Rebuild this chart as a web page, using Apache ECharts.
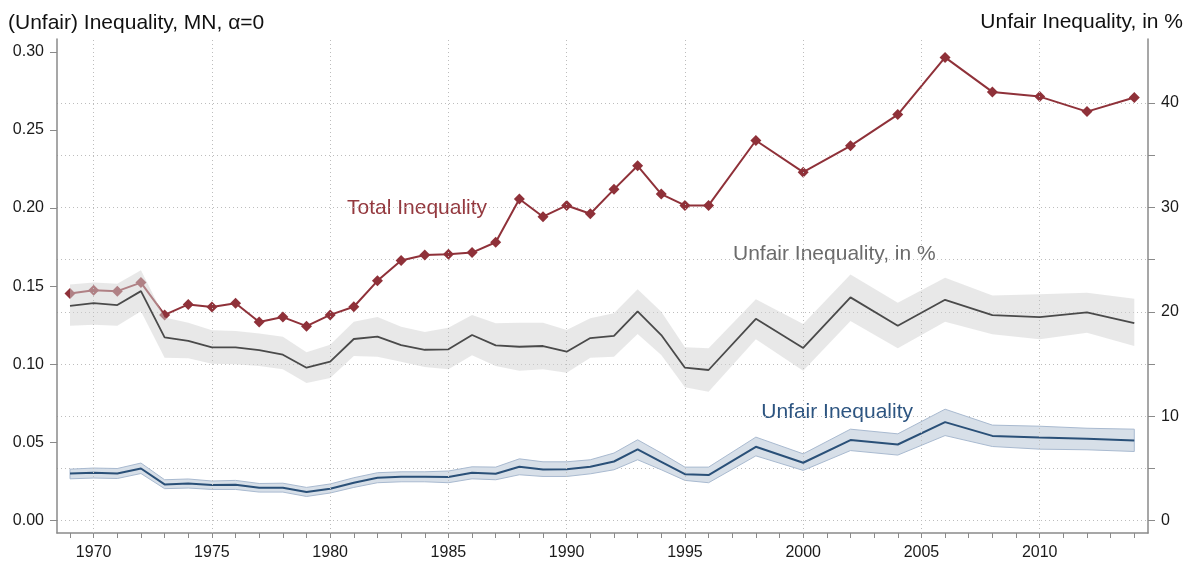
<!DOCTYPE html>
<html>
<head>
<meta charset="utf-8">
<script src="https://cdn.jsdelivr.net/npm/echarts@6.0.0/dist/echarts.min.js"></script>
<style>
  html, body { margin: 0; padding: 0; background: #fff; }
  #chart { width: 1192px; height: 562px; }
</style>
</head>
<body>
<div id="chart"></div>
<script>
// survey years (annual to 1996, every second year after)
const years = [1969, 1970, 1971, 1972, 1973, 1974, 1975, 1976, 1977, 1978,
  1979, 1980, 1981, 1982, 1983, 1984, 1985, 1986, 1987, 1988,
  1989, 1990, 1991, 1992, 1993, 1994, 1995, 1996,
  1998, 2000, 2002, 2004, 2006, 2008, 2010, 2012, 2014];

// total inequality, MN (left axis)
const totalIneq = [0.1453, 0.1474, 0.1468, 0.1523, 0.1316, 0.1383, 0.1366, 0.1391, 0.1270, 0.1302,
  0.1244, 0.1316, 0.1368, 0.1534, 0.1664, 0.1700, 0.1704, 0.1715, 0.1781, 0.2058,
  0.1945, 0.2017, 0.1964, 0.2120, 0.2271, 0.2090, 0.2017, 0.2017,
  0.2433, 0.2230, 0.2399, 0.2599, 0.2965, 0.2744, 0.2714, 0.2618, 0.2708];

// unfair inequality, MN (left axis) with confidence band
const unfairIneq = [0.0300, 0.0305, 0.0300, 0.0332, 0.0230, 0.0236, 0.0226, 0.0228, 0.0209, 0.0209,
  0.0181, 0.0203, 0.0241, 0.0273, 0.0279, 0.0279, 0.0277, 0.0305, 0.0298, 0.0343,
  0.0326, 0.0328, 0.0343, 0.0377, 0.0454, 0.0375, 0.0296, 0.0290,
  0.0471, 0.0369, 0.0514, 0.0486, 0.0629, 0.0541, 0.0530, 0.0522, 0.0511];
const unfairIneqHi = [0.0328, 0.0335, 0.0332, 0.0367, 0.0260, 0.0265, 0.0252, 0.0256, 0.0236, 0.0238,
  0.0211, 0.0233, 0.0273, 0.0305, 0.0311, 0.0311, 0.0316, 0.0343, 0.0341, 0.0394,
  0.0375, 0.0375, 0.0388, 0.0431, 0.0516, 0.0431, 0.0341, 0.0341,
  0.0533, 0.0426, 0.0584, 0.0554, 0.0712, 0.0610, 0.0603, 0.0590, 0.0584];
const unfairIneqLo = [0.0266, 0.0271, 0.0268, 0.0300, 0.0203, 0.0207, 0.0198, 0.0198, 0.0181, 0.0181,
  0.0153, 0.0175, 0.0211, 0.0241, 0.0247, 0.0247, 0.0241, 0.0266, 0.0260, 0.0292,
  0.0281, 0.0281, 0.0298, 0.0324, 0.0388, 0.0324, 0.0256, 0.0241,
  0.0413, 0.0320, 0.0447, 0.0418, 0.0543, 0.0473, 0.0456, 0.0452, 0.0441];

// unfair inequality share, in % (right axis) with confidence band
const unfairShare = [20.57, 20.83, 20.64, 21.98, 17.55, 17.22, 16.59, 16.59, 16.33, 15.89,
  14.64, 15.22, 17.39, 17.61, 16.81, 16.36, 16.40, 17.77, 16.78, 16.65,
  16.72, 16.17, 17.48, 17.70, 20.04, 17.77, 14.64, 14.42,
  19.33, 16.53, 21.38, 18.66, 21.15, 19.68, 19.49, 19.94, 18.92];
const unfairShareHi = [22.62, 22.81, 22.68, 23.99, 19.46, 18.95, 18.22, 18.15, 17.93, 17.61,
  16.11, 16.84, 19.04, 19.49, 18.56, 18.06, 18.47, 19.68, 18.89, 18.95,
  18.95, 18.25, 19.37, 19.85, 22.17, 20.00, 16.59, 16.50,
  21.19, 18.82, 23.58, 20.86, 23.25, 21.57, 21.67, 21.82, 21.24];
const unfairShareLo = [18.66, 18.76, 18.66, 20.04, 15.60, 15.54, 15.02, 14.97, 14.80, 14.49,
  13.18, 13.66, 15.76, 15.69, 15.22, 14.71, 14.49, 15.83, 14.80, 14.35,
  14.49, 14.16, 15.60, 15.69, 17.87, 15.86, 12.77, 12.34,
  17.36, 14.35, 19.11, 16.50, 19.04, 17.84, 17.36, 17.99, 16.72];

// ticks and labels
const yearTicks = [];
for (let y = 1969; y <= 2014; y++) yearTicks.push(y);
const yearLabels = [1970, 1975, 1980, 1985, 1990, 1995, 2000, 2005, 2010];
const leftTicks = [0, 0.05, 0.10, 0.15, 0.20, 0.25, 0.30];
const rightTicks = [0, 5, 10, 15, 20, 25, 30, 35, 40];
const rightLabels = [0, 10, 20, 30, 40];

const FONT = '"Liberation Sans", Arial, sans-serif';
const AXIS_GRAY = '#8a8a8a';
const GRID_GRAY = '#bdbdbd';
const RED = '#8f3139';
const BLUE = '#2a5078';
const DARK = '#4a4a4a';

const pairs = (vals) => years.map((y, i) => [y, vals[i]]);

// confidence band drawn as one polygon through the axis scales
function band(hi, lo, yAxisIndex, fill, stroke) {
  return {
    type: 'custom',
    yAxisIndex: yAxisIndex,
    silent: true,
    clip: true,
    data: years.map((y, i) => [y, lo[i], hi[i]]),
    encode: { x: 0, y: [1, 2] },
    renderItem: (params, api) => {
      if (params.dataIndex !== 0) return null;
      const upper = years.map((y, i) => api.coord([y, hi[i]]));
      const lower = years.map((y, i) => api.coord([y, lo[i]])).reverse();
      return {
        type: 'polygon',
        shape: { points: upper.concat(lower) },
        style: { fill: fill, stroke: stroke || null, lineWidth: stroke ? 1 : 0 }
      };
    }
  };
}

const chart = echarts.init(document.getElementById('chart'));

chart.setOption({
  animation: false,
  backgroundColor: '#fff',
  textStyle: { fontFamily: FONT },
  grid: { left: 57, right: 44, top: 39, bottom: 29, containLabel: false },
  xAxis: {
    type: 'value',
    min: 1968.45,
    max: 2014.58,
    axisLine: { onZero: false, lineStyle: { color: AXIS_GRAY, width: 1.5 } },
    axisTick: { length: 5, customValues: yearTicks, lineStyle: { color: AXIS_GRAY } },
    axisLabel: { customValues: yearLabels, margin: 12, fontSize: 16, color: '#1a1a1a', fontFamily: FONT,
      formatter: (v) => String(v) },
    splitLine: { show: false }
  },
  yAxis: [
    {
      type: 'value',
      position: 'left',
      min: -0.0081,
      max: 0.3083,
      axisLine: { show: true, lineStyle: { color: AXIS_GRAY, width: 1.5 } },
      axisTick: { show: true, length: 7, customValues: leftTicks, lineStyle: { color: AXIS_GRAY } },
      axisLabel: { customValues: leftTicks, margin: 13, fontSize: 16, color: '#1a1a1a', fontFamily: FONT,
        formatter: (v) => v.toFixed(2) },
      splitLine: { show: false }
    },
    {
      type: 'value',
      position: 'right',
      min: -1.2,
      max: 46.14,
      axisLine: { show: true, lineStyle: { color: AXIS_GRAY, width: 1.5 } },
      axisTick: { show: true, length: 7, customValues: rightTicks, lineStyle: { color: AXIS_GRAY } },
      axisLabel: { customValues: rightLabels, margin: 13, fontSize: 16, color: '#1a1a1a', fontFamily: FONT },
      splitLine: { show: true, lineStyle: { color: GRID_GRAY, width: 1, type: [1, 3] } }
    }
  ],
  series: [
    band(unfairIneqHi, unfairIneqLo, 0, '#d7dfe8', '#a9bad0'),
    {
      name: 'Unfair Inequality', type: 'line', yAxisIndex: 0, data: pairs(unfairIneq),
      symbol: 'none', lineStyle: { color: BLUE, width: 2 },
      // vertical grid lines every five years
      markLine: {
        silent: true, symbol: 'none', label: { show: false },
        lineStyle: { color: GRID_GRAY, width: 1, type: [1, 3] },
        data: yearLabels.map((y) => ({ xAxis: y }))
      },
      z: 3
    },
    {
      name: 'Total Inequality', type: 'line', yAxisIndex: 0, data: pairs(totalIneq),
      symbol: 'diamond', symbolSize: [11, 11], showAllSymbol: true,
      itemStyle: { color: RED, borderWidth: 0 },
      lineStyle: { color: RED, width: 2 },
      z: 3
    },
    Object.assign(band(unfairShareHi, unfairShareLo, 1, 'rgba(210,210,210,0.5)', null), { z: 4 }),
    {
      name: 'Unfair Inequality, in %', type: 'line', yAxisIndex: 1, data: pairs(unfairShare),
      symbol: 'none', lineStyle: { color: DARK, width: 1.8 },
      z: 5
    }
  ],
  graphic: [
    { type: 'text', x: 8, y: 23, style: { text: '(Unfair) Inequality, MN, \u03b1=0', fill: '#111', font: '21px ' + FONT, align: 'left', verticalAlign: 'middle' } },
    { type: 'text', x: 1183, y: 22, style: { text: 'Unfair Inequality, in %', fill: '#111', font: '21px ' + FONT, align: 'right', verticalAlign: 'middle' } },
    { type: 'text', x: 347, y: 208, style: { text: 'Total Inequality', fill: '#94393f', font: '21px ' + FONT, align: 'left', verticalAlign: 'middle' } },
    { type: 'text', x: 733, y: 254.5, style: { text: 'Unfair Inequality, in %', fill: '#6b6b6b', font: '21px ' + FONT, align: 'left', verticalAlign: 'middle' } },
    { type: 'text', x: 913, y: 412.5, style: { text: 'Unfair Inequality', fill: '#2c5480', font: '21px ' + FONT, align: 'right', verticalAlign: 'middle' } }
  ]
});
</script>
</body>
</html>
